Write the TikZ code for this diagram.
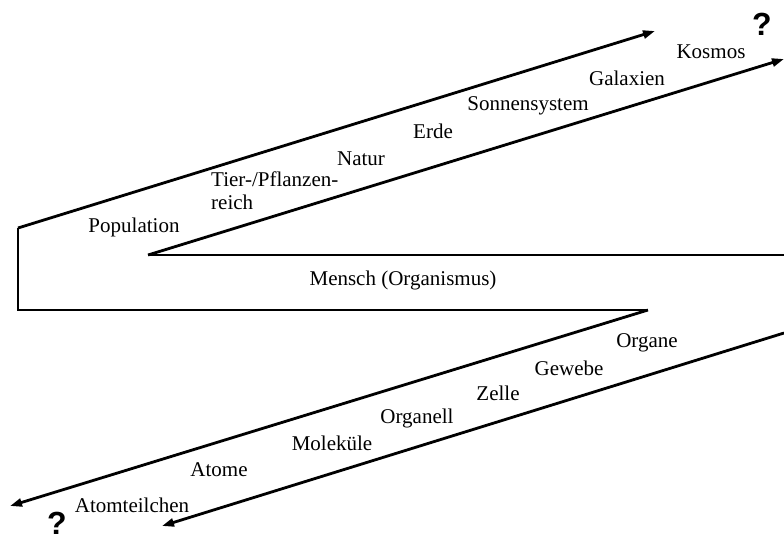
\documentclass[tikz,border=0pt]{standalone}
\usepackage{fontspec}
\setmainfont{Liberation Serif}
\newfontfamily\qfont{Liberation Sans}
\usetikzlibrary{arrows.meta}
\begin{document}
\begin{tikzpicture}[x=1pt,y=-1pt,
  ln/.style={line width=2.8pt,line join=miter},
  arr/.style={ln,-{Triangle[length=12pt,width=8pt]}},
  lbl/.style={font=\fontsize{21}{23}\selectfont,inner sep=0pt},
  qm/.style={font=\qfont\bfseries\fontsize{32}{34}\selectfont,inner sep=0pt,anchor=base}]
\useasboundingbox (0,0) rectangle (784,541);
% outer path
\coordinate (tA) at (655,31);
\coordinate (o1) at (18,228);
\coordinate (o2) at (18,310);
\coordinate (o3) at (648,310);
\coordinate (bA) at (10,506);
% inner path
\coordinate (tB) at (784,59);
\coordinate (i1) at (148,255);
\coordinate (i2) at (784,255);
\coordinate (i3) at (784,333);
\coordinate (bB) at (162,526);
\draw[arr] (o1) -- (tA);
\draw[ln] (o1) -- (o2) -- (o3);
\draw[arr] (o3) -- (bA);
\draw[arr] (i1) -- (tB);
\draw[ln] (i1) -- (i2);
\draw[arr] (i3) -- (bB);
% labels
\node[lbl] (kos) at (711,52) {Kosmos};
\node[lbl] (gal) at (627,78) {Galaxien};
\node[lbl] (son) at (528,106) {Sonnensystem};
\node[lbl] (erd) at (433,131) {Erde};
\node[lbl] (nat) at (361,159) {Natur};
\node[lbl,align=left,anchor=north west] (tie) at (211,172) {Tier-/Pflanzen-\\reich};
\node[lbl] (pop) at (134,227) {Population};
\node[lbl] (men) at (403,280) {Mensch (Organismus)};
\node[lbl] (org) at (647,343) {Organe};
\node[lbl] (gew) at (569,368) {Gewebe};
\node[lbl] (zel) at (498,393) {Zelle};
\node[lbl] (orl) at (417,418) {Organell};
\node[lbl] (mol) at (332,443) {Moleküle};
\node[lbl] (ato) at (219,470) {Atome};
\node[lbl] (att) at (132,505) {Atomteilchen};
\node[qm] (q1) at (762,35) {?};
\node[qm] (q2) at (57,534) {?};
\end{tikzpicture}
\end{document}
